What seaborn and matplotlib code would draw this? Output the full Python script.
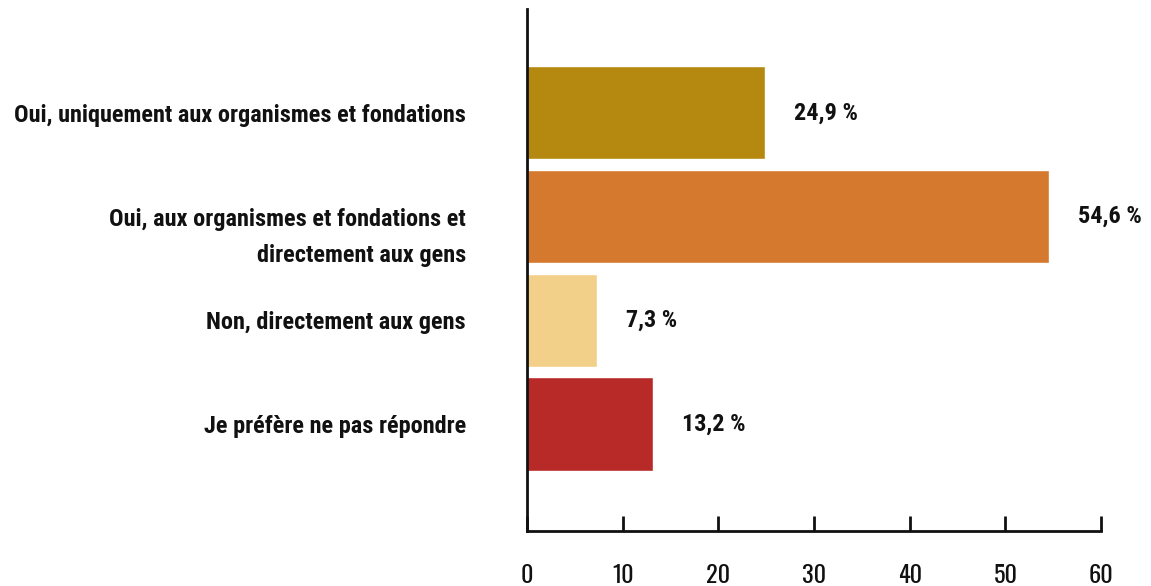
import matplotlib
matplotlib.use("Agg")
import matplotlib.pyplot as plt
import matplotlib.transforms as mtransforms
import pandas as pd
import seaborn as sns

categories = [
    "Oui, uniquement aux organismes et fondations",
    "Oui, aux organismes et fondations et\ndirectement aux gens",
    "Non, directement aux gens",
    "Je préfère ne pas répondre",
]
values = [24.9, 54.6, 7.3, 13.2]
value_labels = ["24,9 %", "54,6 %", "7,3 %", "13,2 %"]
colors = ["#B5890F", "#D5792E", "#F3D08A", "#B82A27"]
x_ticks = [0, 10, 20, 30, 40, 50, 60]

sns.set_style("white")
plt.rcParams["font.family"] = ["Roboto Condensed", "DejaVu Sans"]

df = pd.DataFrame({"cat": categories, "val": values})

fig = plt.figure(figsize=(11.51, 5.86), dpi=100)
ax = fig.add_axes([0.458, 0.094, 0.4986, 0.8906])

sns.barplot(data=df, x="val", y="cat", hue="cat", palette=colors,
            width=0.9, saturation=1, legend=False, ax=ax)

for i, (v, lab) in enumerate(zip(values, value_labels)):
    ax.text(v + 3.0, i, lab, va="center", ha="left",
            fontsize=17.5, fontweight="bold", color="#111111")

ax.set_xlim(0, 60)
ax.set_ylim(4.03, -1.0)
ax.set_xticks(x_ticks)
ax.set_xticklabels([str(t) for t in x_ticks], fontsize=17.5, fontweight=400,
                   family=["Oswald", "Barlow Condensed", "DejaVu Sans"])
ax.set_xlabel("")
ax.set_ylabel("")
ax.tick_params(axis="x", bottom=True, direction="in", length=11, width=2,
               pad=24, colors="#111111")
ax.tick_params(axis="y", length=0, pad=44, labelsize=17.5, colors="#111111")

# the two-line label hangs a bit below its bar centre in the original
shift_down = mtransforms.ScaledTranslation(0, -0.12, fig.dpi_scale_trans)
for lab in ax.get_yticklabels():
    lab.set_fontweight("bold")
    lab.set_multialignment("right")
    if "\n" in lab.get_text():
        lab.set_linespacing(1.72)
        lab.set_transform(lab.get_transform() + shift_down)

for side in ["top", "right"]:
    ax.spines[side].set_visible(False)
for side in ["left", "bottom"]:
    ax.spines[side].set_linewidth(2)
    ax.spines[side].set_color("#111111")

fig.savefig("out.png", dpi=100)
